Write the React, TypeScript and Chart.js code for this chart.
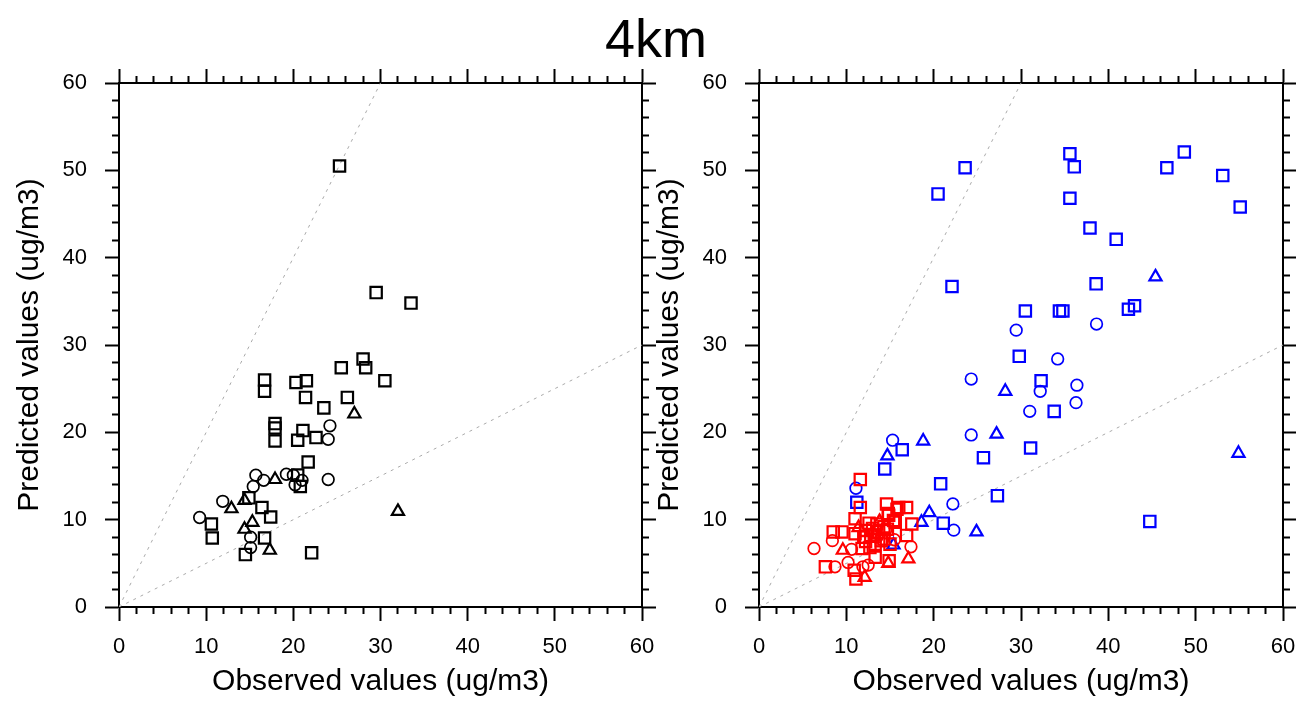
import React, { useEffect, useRef } from 'react';
import { Chart, registerables } from 'chart.js';

Chart.register(...registerables);

// ---------- text ----------
const chartTitle = '4km';
const xTitle = 'Observed values (ug/m3)';
const yTitle = 'Predicted values (ug/m3)';

// ---------- axis ----------
const axisMin = 0;
const axisMax = 60;
const majorStep = 10;
const minorStep = 2;

// ---------- reference lines (1:2 and 2:1) ----------
const refUpper: [number, number][] = [[0, 0], [30, 60]];
const refLower: [number, number][] = [[0, 0], [60, 30]];

// ---------- left panel (black) ----------
const leftSquares: [number, number][] = [
  [25.3, 50.5], [29.5, 36.0], [33.5, 34.8], [28.0, 28.4], [28.3, 27.4], [25.5, 27.4],
  [30.5, 25.9], [16.7, 26.0], [16.7, 24.7], [20.3, 25.7], [21.5, 25.9], [21.4, 24.0],
  [26.2, 24.0], [23.5, 22.8], [17.9, 21.0], [17.9, 20.5], [17.9, 19.0], [21.1, 20.2],
  [20.5, 19.1], [22.6, 19.4], [21.7, 16.6], [20.5, 15.1], [20.8, 13.8], [14.9, 12.5],
  [16.4, 11.4], [17.4, 10.3], [10.6, 9.5], [10.7, 7.9], [16.7, 7.9], [14.5, 6.0],
  [22.1, 6.2],
];
const leftCircles: [number, number][] = [
  [24.2, 20.75], [24.0, 19.2], [24.0, 14.6], [15.7, 15.1], [16.6, 14.5], [15.4, 13.8],
  [19.2, 15.2], [20.0, 15.1], [21.0, 14.5], [20.2, 14.0], [11.9, 12.1], [9.25, 10.25],
  [15.1, 8.0], [15.1, 6.8],
];
const leftTriangles: [number, number][] = [
  [27.0, 22.1], [17.9, 14.6], [12.9, 11.25], [14.4, 12.2], [15.3, 9.7], [14.4, 8.9],
  [17.3, 6.5], [32.0, 10.95],
];

// ---------- right panel (blue) ----------
const blueSquares: [number, number][] = [
  [35.6, 51.9], [36.1, 50.4], [23.6, 50.3], [20.5, 47.3], [48.7, 52.1], [46.7, 50.3],
  [53.1, 49.4], [55.1, 45.8], [35.6, 46.8], [37.9, 43.4], [40.9, 42.1], [22.1, 36.7],
  [38.6, 37.0], [43.0, 34.5], [42.3, 34.1], [30.5, 33.9], [34.4, 33.9], [34.8, 33.9],
  [29.8, 28.7], [32.3, 25.9], [33.8, 22.4], [31.1, 18.2], [25.7, 17.1], [16.4, 18.0],
  [14.4, 15.8], [20.8, 14.1], [27.3, 12.75], [11.2, 12.0], [21.1, 9.6], [44.75, 9.8],
];
const blueCircles: [number, number][] = [
  [29.45, 31.7], [38.65, 32.4], [34.2, 28.4], [24.3, 26.1], [32.2, 24.7], [36.4, 25.4],
  [36.3, 23.4], [31.0, 22.4], [24.3, 19.7], [15.3, 19.1], [22.2, 11.8], [22.3, 8.8],
  [11.1, 13.6],
];
const blueTriangles: [number, number][] = [
  [45.4, 37.8], [28.2, 24.7], [27.2, 19.8], [18.8, 19.0], [14.7, 17.3], [19.5, 10.8],
  [18.6, 9.7], [24.9, 8.6], [54.9, 17.6], [15.4, 7.1],
];

// ---------- right panel (red) ----------
const redSquares: [number, number][] = [
  [11.6, 14.6], [11.6, 11.4], [14.6, 11.8], [16.0, 11.4], [16.9, 11.4], [15.8, 11.2],
  [11.0, 10.1], [14.8, 10.7], [15.6, 9.7], [15.4, 9.9], [17.5, 9.5], [12.6, 9.6],
  [13.5, 9.5], [8.5, 8.6], [9.5, 8.6], [11.0, 8.4], [12.2, 8.75], [12.8, 8.2],
  [13.7, 8.6], [14.3, 7.8], [14.7, 8.9], [13.3, 7.2], [15.0, 7.2], [16.9, 8.2],
  [7.6, 4.6], [10.9, 4.2], [11.1, 3.2], [13.3, 5.7], [14.9, 5.3], [11.8, 6.7],
  [12.2, 7.5], [13.2, 8.25], [14.0, 7.6], [12.7, 6.8], [14.85, 10.5], [13.0, 9.0],
  [14.3, 9.2], [12.0, 8.0],
];
const redCircles: [number, number][] = [
  [6.3, 6.7], [8.4, 7.6], [8.7, 4.6], [10.2, 5.1], [10.6, 6.6], [11.9, 4.6],
  [12.5, 4.8], [17.4, 6.9], [15.5, 7.7], [13.5, 8.0], [14.5, 8.8],
];
const redTriangles: [number, number][] = [
  [9.6, 6.5], [12.1, 3.4], [14.8, 5.0], [17.1, 5.5], [11.4, 9.1], [13.8, 9.8],
];

// ---------- helpers ----------
const FONT = '"Liberation Sans", Arial, Helvetica, sans-serif';
const toXY = (arr: [number, number][]) => arr.map(([x, y]) => ({ x, y }));
const isMajor = (v: number) => Math.abs(v % majorStep) < 1e-6;

function markerSet(data: [number, number][], style: string, color: string) {
  const conf: any = {
    data: toXY(data),
    pointStyle: style,
    backgroundColor: 'rgba(0,0,0,0)',
    borderColor: color,
    pointBackgroundColor: 'rgba(0,0,0,0)',
    pointBorderColor: color,
  };
  if (style === 'rect') {
    conf.pointRadius = 8;
    conf.pointBorderWidth = 2.2;
  } else if (style === 'circle') {
    conf.pointRadius = 5.8;
    conf.pointBorderWidth = 1.7;
  } else {
    conf.pointRadius = 7;
    conf.pointBorderWidth = 2.2;
  }
  conf.pointHoverRadius = conf.pointRadius;
  return conf;
}

function refSet(data: [number, number][]) {
  return {
    data: toXY(data),
    showLine: true,
    pointRadius: 0,
    borderColor: '#aaaaaa',
    borderWidth: 1,
    borderDash: [3, 5],
    fill: false,
  };
}

function makeScale(position: 'left' | 'right' | 'top' | 'bottom', size: number, labels: boolean) {
  const horizontal = position === 'top' || position === 'bottom';
  const outerStart = position === 'top' || position === 'left';
  const s: any = {
    type: 'linear',
    position,
    min: axisMin,
    max: axisMax,
    afterFit: (scale: any) => {
      if (horizontal) scale.height = size;
      else scale.width = size;
      scale.paddingTop = 0;
      scale.paddingBottom = 0;
      scale.paddingLeft = 0;
      scale.paddingRight = 0;
    },
    ticks: {
      display: labels,
      stepSize: minorStep,
      maxTicksLimit: 100,
      autoSkip: false,
      maxRotation: 0,
      minRotation: 0,
      color: '#000',
      font: { family: FONT, size: 22 },
      padding: horizontal ? 13 : 18,
      callback: (v: number) => (isMajor(v) ? String(v) : ''),
    },
    grid: {
      display: true,
      drawOnChartArea: false,
      drawTicks: true,
      tickLength: 14,
      tickWidth: 2,
      tickColor: '#000',
      tickBorderDash: (ctx: any) =>
        ctx.tick && isMajor(ctx.tick.value) ? [] : outerStart ? [0, 7, 7, 100] : [6, 100],
    },
    border: { display: true, color: '#000', width: 2 },
  };
  if (labels) {
    s.title = {
      display: true,
      text: horizontal ? xTitle : yTitle,
      color: '#000',
      font: { family: FONT, size: 30 },
      padding: horizontal ? { top: 0, bottom: 3 } : { top: 12, bottom: 0 },
    };
  }
  return s;
}

type PanelProps = {
  left: number;
  top: number;
  width: number;
  height: number;
  leftW: number;
  rightW: number;
  topH: number;
  bottomH: number;
  datasets: any[];
};

function Panel(p: PanelProps) {
  const ref = useRef<HTMLCanvasElement | null>(null);
  useEffect(() => {
    if (!ref.current) return;
    const chart = new Chart(ref.current, {
      type: 'scatter',
      data: { datasets: p.datasets },
      options: {
        responsive: false,
        maintainAspectRatio: false,
        devicePixelRatio: 1,
        animation: false,
        events: [],
        layout: { padding: 0 },
        plugins: { legend: { display: false }, tooltip: { enabled: false }, title: { display: false } },
        scales: {
          x: makeScale('bottom', p.bottomH, true),
          y: makeScale('left', p.leftW, true),
          x2: makeScale('top', p.topH, false),
          y2: makeScale('right', p.rightW, false),
        },
      } as any,
    });
    return () => chart.destroy();
  }, []);
  return (
    <canvas
      ref={ref}
      width={p.width}
      height={p.height}
      style={{ position: 'absolute', left: p.left, top: p.top, width: p.width, height: p.height }}
    />
  );
}

const leftDatasets = [
  markerSet(leftSquares, 'rect', '#000000'),
  markerSet(leftCircles, 'circle', '#000000'),
  markerSet(leftTriangles, 'triangle', '#000000'),
  refSet(refUpper),
  refSet(refLower),
];

const rightDatasets = [
  markerSet(redSquares, 'rect', '#ff0000'),
  markerSet(redCircles, 'circle', '#ff0000'),
  markerSet(redTriangles, 'triangle', '#ff0000'),
  markerSet(blueSquares, 'rect', '#0000ff'),
  markerSet(blueCircles, 'circle', '#0000ff'),
  markerSet(blueTriangles, 'triangle', '#0000ff'),
  refSet(refUpper),
  refSet(refLower),
];

export default function App() {
  return (
    <div
      style={{
        position: 'absolute',
        left: 0,
        top: 0,
        width: 1296,
        height: 703,
        overflow: 'hidden',
        background: '#fff',
      }}
    >
      <div
        style={{
          position: 'absolute',
          left: 656,
          top: 11,
          transform: 'translateX(-50%)',
          fontFamily: FONT,
          fontSize: 54,
          lineHeight: '54px',
          color: '#000',
          whiteSpace: 'nowrap',
        }}
      >
        {chartTitle}
      </div>
      <Panel left={0} top={60} width={657} height={643} leftW={119} rightW={15} topH={23} bottomH={96} datasets={leftDatasets} />
      <Panel left={640} top={60} width={656} height={643} leftW={119} rightW={13} topH={23} bottomH={96} datasets={rightDatasets} />
    </div>
  );
}
